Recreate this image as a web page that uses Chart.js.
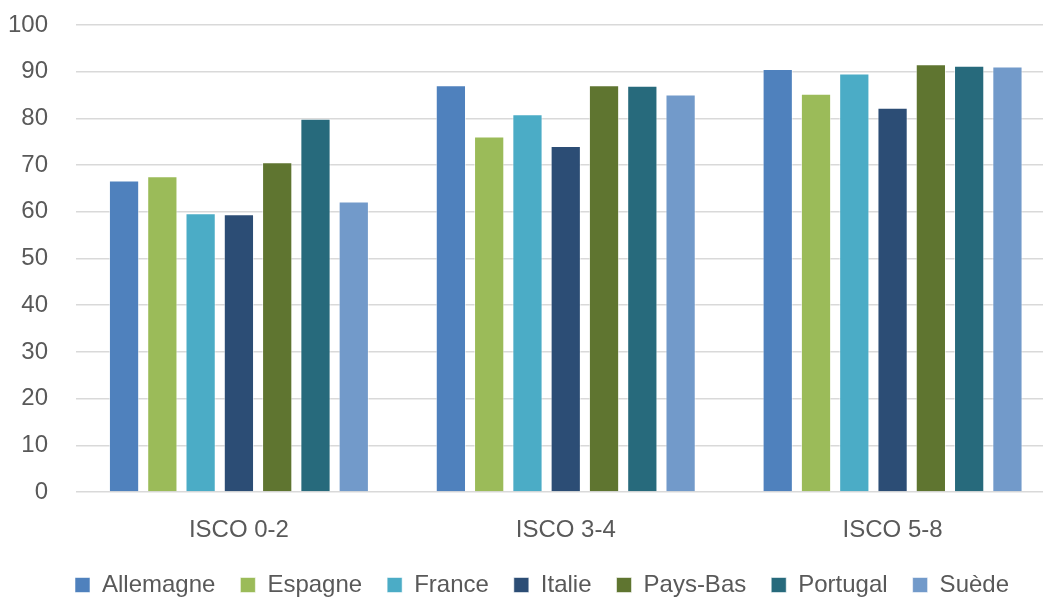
<!DOCTYPE html>
<html>
<head>
<meta charset="utf-8">
<script src="https://cdn.jsdelivr.net/npm/chart.js@4"></script>
<style>
    body { margin: 0; background: #fff; overflow: hidden; }
    #box { width: 1043px; height: 599px; overflow: hidden; }
    #wrap { width: 1058px; height: 599px; }
</style>
</head>
<body>
<div id="box"><div id="wrap"><canvas id="grafik"></canvas></div></div>
<script>
const categories = ['ISCO 0-2', 'ISCO 3-4', 'ISCO 5-8'];
const countries = ['Allemagne', 'Espagne', 'France', 'Italie', 'Pays-Bas', 'Portugal', 'Suède'];
const colors = ['#4f81bd', '#9bbb59', '#4bacc6', '#2c4d75', '#5f7530', '#276a7c', '#729aca'];

const allemagne = [66.7, 87.1, 90.6];
const espagne = [67.6, 76.1, 85.3];
const france = [59.7, 80.9, 89.6];
const italie = [59.5, 74.1, 82.3];
const paysBas = [70.6, 87.1, 91.6];
const portugal = [79.9, 87.0, 91.3];
const suede = [62.2, 85.1, 91.1];

const values = [allemagne, espagne, france, italie, paysBas, portugal, suede];
const yTicks = [0, 10, 20, 30, 40, 50, 60, 70, 80, 90, 100];

const textColor = '#595959';
const font = { family: '"Liberation Sans", Arial, sans-serif', size: 24 };

// legende un peu decalee vers la droite comme dans l'original
const legendShift = {
    id: 'legendShift',
    afterLayout(chart) {
        chart.legend.left += 28;
        chart.legend.width = chart.legend.right - chart.legend.left;
    }
};

const ctx = document.getElementById('grafik');
new Chart(ctx, {
    type: 'bar',
    data: {
        labels: categories,
        datasets: countries.map((name, i) => ({
            label: name,
            data: values[i],
            backgroundColor: colors[i],
            borderColor: 'rgba(255,255,255,0.55)',
            borderWidth: 1,
            categoryPercentage: 0.82,
            barPercentage: 0.79
        }))
    },
    plugins: [legendShift],
    options: {
        responsive: true,
        maintainAspectRatio: false,
        animation: false,
        layout: { padding: { left: 0, right: 2, top: 25, bottom: -8 } },
        plugins: {
            tooltip: { enabled: false },
            legend: {
                position: 'bottom',
                labels: {
                    color: textColor,
                    font: font,
                    boxWidth: 15,
                    boxHeight: 15,
                    padding: 25
                }
            }
        },
        scales: {
            x: {
                afterFit: function (scale) { scale.height = 56; },
                grid: { display: false, drawTicks: false },
                border: { display: false },
                ticks: { color: textColor, font: font, padding: 23.6 }
            },
            y: {
                min: 0,
                max: 100,
                afterFit: function (scale) { scale.width = 75.5; },
                afterBuildTicks: function (scale) { scale.ticks = yTicks.map(v => ({ value: v })); },
                grid: { color: '#d9d9d9', lineWidth: 1.5, drawTicks: true, tickLength: 27.5, tickColor: 'rgba(0,0,0,0)' },
                border: { display: false },
                ticks: { color: textColor, font: font, padding: 0 }
            }
        }
    }
});
</script>
</body>
</html>
